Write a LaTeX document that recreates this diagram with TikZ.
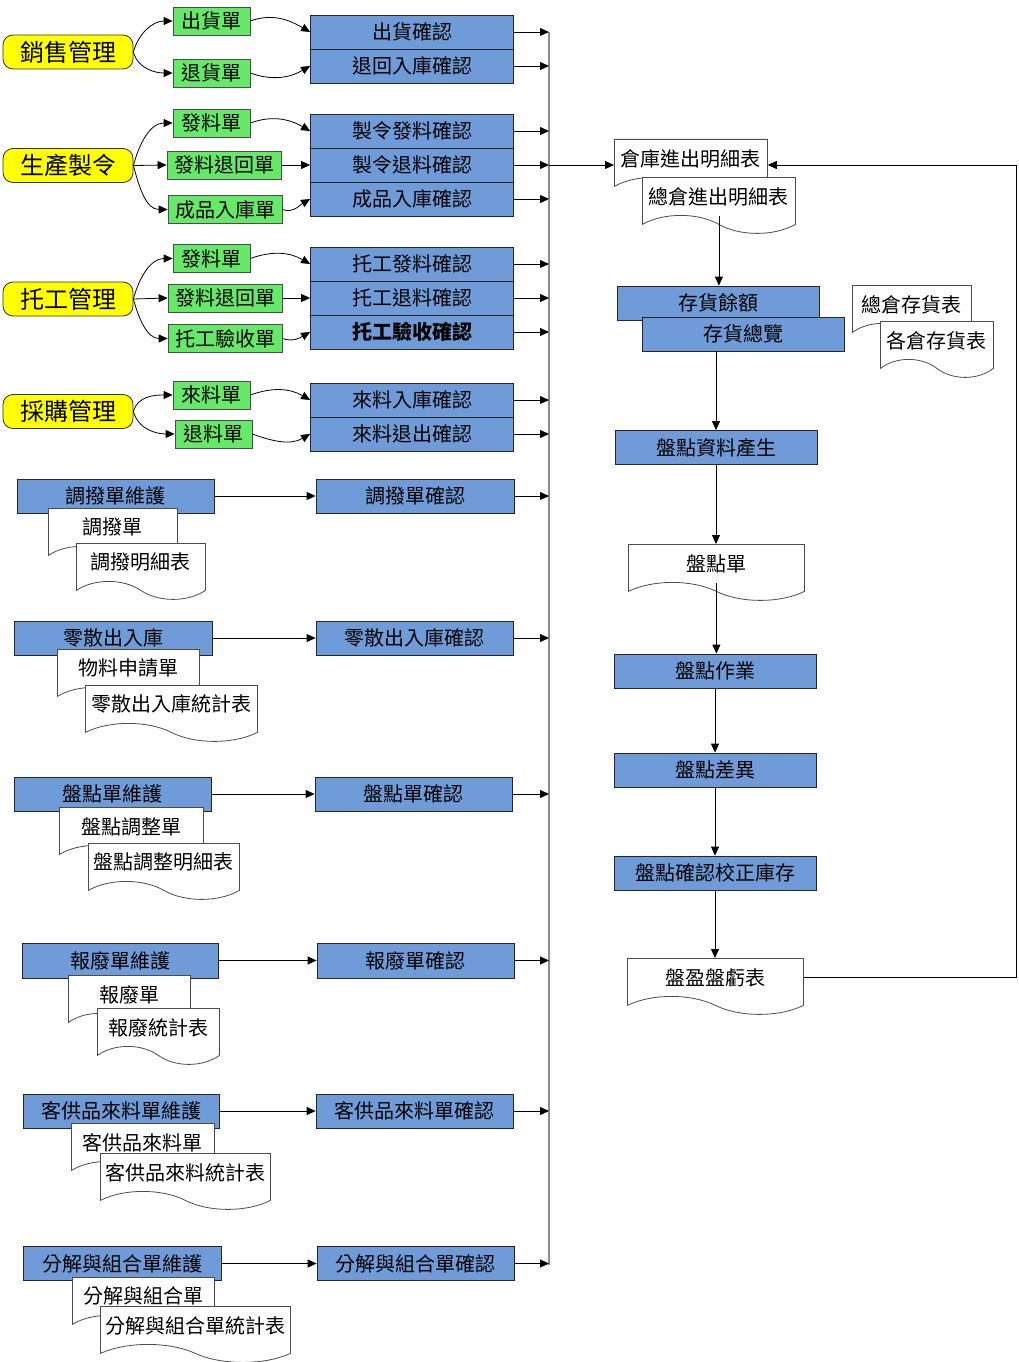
\documentclass[tikz,border=0pt]{standalone}
\usepackage{fontspec}
\usepackage{tikz}
\usetikzlibrary{arrows.meta,shapes.symbols}
\newfontfamily\cjk{Noto Sans CJK TC}
\definecolor{modyellow}{HTML}{FFFF00}
\definecolor{slipgreen}{HTML}{66E868}
\definecolor{taskblue}{HTML}{6F9CD8}
\def\okx{412}

\begin{document}
\begin{tikzpicture}[x=1pt,y=-1pt,>={Triangle[length=9pt,width=8pt]},line width=0.8pt]
    \tikzstyle{every node}=[font=\cjk\fontsize{20}{22}\selectfont,inner sep=0pt]
    \tikzstyle{module}=[rectangle,rounded corners=10pt,draw=black!80,fill=modyellow,minimum width=130pt,minimum height=34pt,font=\cjk\fontsize{24}{26}\selectfont]
    \tikzstyle{slip}=[rectangle,draw=black!70,fill=slipgreen,minimum width=77pt,minimum height=28pt]
    \tikzstyle{task}=[rectangle,draw=black!85,fill=taskblue,minimum width=202pt,minimum height=34pt]
    \tikzstyle{report}=[tape,tape bend top=none,tape bend bottom=out and in,tape bend height=18pt,draw=black!70,fill=white,anchor=north west,minimum height=56pt]
    \tikzstyle{flow}=[->,draw=black]
    \useasboundingbox (0,0) rectangle (1018,1362);

    % the four modules with their slips
    \node[module] (sales) at (68,52) {銷售管理};
    \node[module] (prod) at (68,165.5) {生產製令};
    \node[module] (sub) at (68,299) {托工管理};
    \node[module] (buy) at (68,411.5) {採購管理};

    \node[slip] (sales-1) at (211.5,21) {出貨單};
    \node[slip] (sales-2) at (211.5,73) {退貨單};
    \node[slip] (prod-1) at (211.5,123) {發料單};
    \node[slip,minimum width=114pt] (prod-2) at (224,165) {發料退回單};
    \node[slip,minimum width=114pt] (prod-3) at (225,209.5) {成品入庫單};
    \node[slip] (sub-1) at (211.5,258.5) {發料單};
    \node[slip,minimum width=114pt] (sub-2) at (225,298) {發料退回單};
    \node[slip,minimum width=114pt] (sub-3) at (225,338.5) {托工驗收單};
    \node[slip] (buy-1) at (211.5,395) {來料單};
    \node[slip] (buy-2) at (213.5,434) {退料單};

    \foreach \name/\y/\txt in {sales-ok-1/32/出貨確認, sales-ok-2/66/退回入庫確認,
                               prod-ok-1/131/製令發料確認, prod-ok-2/165/製令退料確認, prod-ok-3/199/成品入庫確認,
                               sub-ok-1/264/托工發料確認, sub-ok-2/298/托工退料確認, sub-ok-3/332/{\bfseries 托工驗收確認},
                               buy-ok-1/400/來料入庫確認, buy-ok-2/434/來料退出確認}
        \node[task,minimum width=203pt] (\name) at (\okx,\y) {\txt};

    \draw[flow] (sales.east) to[out=75,in=180] (sales-1.west);
    \draw[flow] (sales.east) to[out=-75,in=180] (sales-2.west);
    \draw[flow] (sales-1.east) to[out=20,in=150] (sales-ok-1.west);
    \draw[flow] (sales-2.east) to[out=-20,in=-150] (sales-ok-2.west);

    \draw[flow] (prod.east) to[out=75,in=180] (prod-1.west);
    \draw[flow] (prod.east) -- (prod-2.west);
    \draw[flow] (prod.east) to[out=-75,in=180] (prod-3.west);
    \draw[flow] (prod-1.east) to[out=20,in=150] (prod-ok-1.west);
    \draw[flow] (prod-2.east) -- (prod-ok-2.west);
    \draw[flow] (prod-3.east) to[out=-20,in=-150] (prod-ok-3.west);

    \draw[flow] (sub.east) to[out=75,in=180] (sub-1.west);
    \draw[flow] (sub.east) -- (sub-2.west);
    \draw[flow] (sub.east) to[out=-75,in=180] (sub-3.west);
    \draw[flow] (sub-1.east) to[out=20,in=150] (sub-ok-1.west);
    \draw[flow] (sub-2.east) -- (sub-ok-2.west);
    \draw[flow] (sub-3.east) to[out=-20,in=-150] (sub-ok-3.west);

    \draw[flow] (buy.east) to[out=75,in=180] (buy-1.west);
    \draw[flow] (buy.east) to[out=-75,in=180] (buy-2.west);
    \draw[flow] (buy-1.east) to[out=20,in=150] (buy-ok-1.west);
    \draw[flow] (buy-2.east) to[out=-20,in=-150] (buy-ok-2.west);

    % maintenance rows with their reports
    \node[task,minimum width=197pt] (move) at (115.5,496) {調撥單維護};
    \node[task,minimum width=198pt] (move-ok) at (415,496) {調撥單確認};
    \node[report,minimum width=129pt] (move-doc-1) at (48,508) {調撥單};
    \node[report,minimum width=129pt] (move-doc-2) at (76,543) {調撥明細表};

    \node[task,minimum width=198pt] (loose) at (113,638) {零散出入庫};
    \node[task,minimum width=197pt] (loose-ok) at (414.5,638) {零散出入庫確認};
    \node[report,minimum width=142pt] (loose-doc-1) at (57,649) {物料申請單};
    \node[report,minimum width=172pt] (loose-doc-2) at (85,685) {零散出入庫統計表};

    \node[task,minimum width=197pt] (check) at (112.5,794) {盤點單維護};
    \node[task,minimum width=197pt] (check-ok) at (413.5,794) {盤點單確認};
    \node[report,minimum width=144pt] (check-doc-1) at (59,807) {盤點調整單};
    \node[report,minimum width=151pt] (check-doc-2) at (88,843) {盤點調整明細表};

    \node[task,minimum width=196pt,minimum height=35pt] (scrap) at (120,960.5) {報廢單維護};
    \node[task,minimum width=197pt,minimum height=35pt] (scrap-ok) at (415.5,960.5) {報廢單確認};
    \node[report,minimum width=122pt] (scrap-doc-1) at (68,975) {報廢單};
    \node[report,minimum width=122pt] (scrap-doc-2) at (97,1008) {報廢統計表};

    \node[task,minimum width=196pt] (cons) at (121,1111) {客供品來料單維護};
    \node[task,minimum width=197pt] (cons-ok) at (414.5,1111) {客供品來料單確認};
    \node[report,minimum width=143pt] (cons-doc-1) at (71,1123) {客供品來料單};
    \node[report,minimum width=170pt] (cons-doc-2) at (100,1153) {客供品來料統計表};

    \node[task,minimum width=198pt] (kit) at (122,1263.5) {分解與組合單維護};
    \node[task,minimum width=197pt] (kit-ok) at (415.5,1263.5) {分解與組合單確認};
    \node[report,minimum width=142pt] (kit-doc-1) at (72,1277) {分解與組合單};
    \node[report,minimum width=190pt] (kit-doc-2) at (100,1306) {分解與組合單統計表};

    \foreach \name in {move,loose,check,scrap,cons,kit}
        \draw[flow] (\name.east) -- (\name-ok.west);

    % the collecting bus
    \coordinate (bus-top) at (549,32);
    \coordinate (bus-bot) at (549,1265);
    \draw[line width=2pt,draw=black!45] (bus-top) -- (bus-bot);
    \foreach \name in {sales-ok-1,sales-ok-2,prod-ok-1,prod-ok-2,prod-ok-3,sub-ok-1,sub-ok-2,sub-ok-3,
                       buy-ok-1,buy-ok-2,move-ok,loose-ok,check-ok,scrap-ok,cons-ok,kit-ok}
        \draw[flow] (\name.east) -- (\name.east -| bus-top);

    % stock and counting column
    \node[report,minimum width=153pt] (ledger) at (614,139) {倉庫進出明細表};
    \node[report,minimum width=153pt] (ledger-all) at (642,177) {總倉進出明細表};
    \node[task] (stock-bal) at (718,303) {存貨餘額};
    \node[task] (stock-view) at (743,334) {存貨總覽};
    \node[report,minimum width=119pt] (stock-rep-1) at (852,285) {總倉存貨表};
    \node[report,minimum width=113pt] (stock-rep-2) at (880,321) {各倉存貨表};
    \node[task] (count-gen) at (716,447.5) {盤點資料產生};
    \node[report,minimum width=176pt] (count-sheet) at (628,544) {盤點單};
    \node[task] (count-do) at (715,671) {盤點作業};
    \node[task] (count-diff) at (715,770) {盤點差異};
    \node[task] (count-fix) at (715,873) {盤點確認校正庫存};
    \node[report,minimum width=176pt] (count-pl) at (627,958) {盤盈盤虧表};

    \draw[flow] (prod-ok-2.east -| bus-top) -- (prod-ok-2.east -| ledger.west);
    \draw[flow] (ledger-all.south) -- (ledger-all.south |- stock-bal.north);
    \draw[flow] (count-gen.north |- stock-view.south) -- (count-gen.north);
    \draw[flow] (count-gen.south) -- (count-gen.south |- count-sheet.north);
    \draw[flow] (count-sheet.south) -- (count-sheet.south |- count-do.north);
    \draw[flow] (count-do) -- (count-diff);
    \draw[flow] (count-diff) -- (count-fix);
    \draw[flow] (count-fix.south) -- (count-fix.south |- count-pl.north);
    \draw[flow] (count-pl.east) -- ++(213,0) |- (prod-ok-2.east -| ledger.east);
\end{tikzpicture}
\end{document}
